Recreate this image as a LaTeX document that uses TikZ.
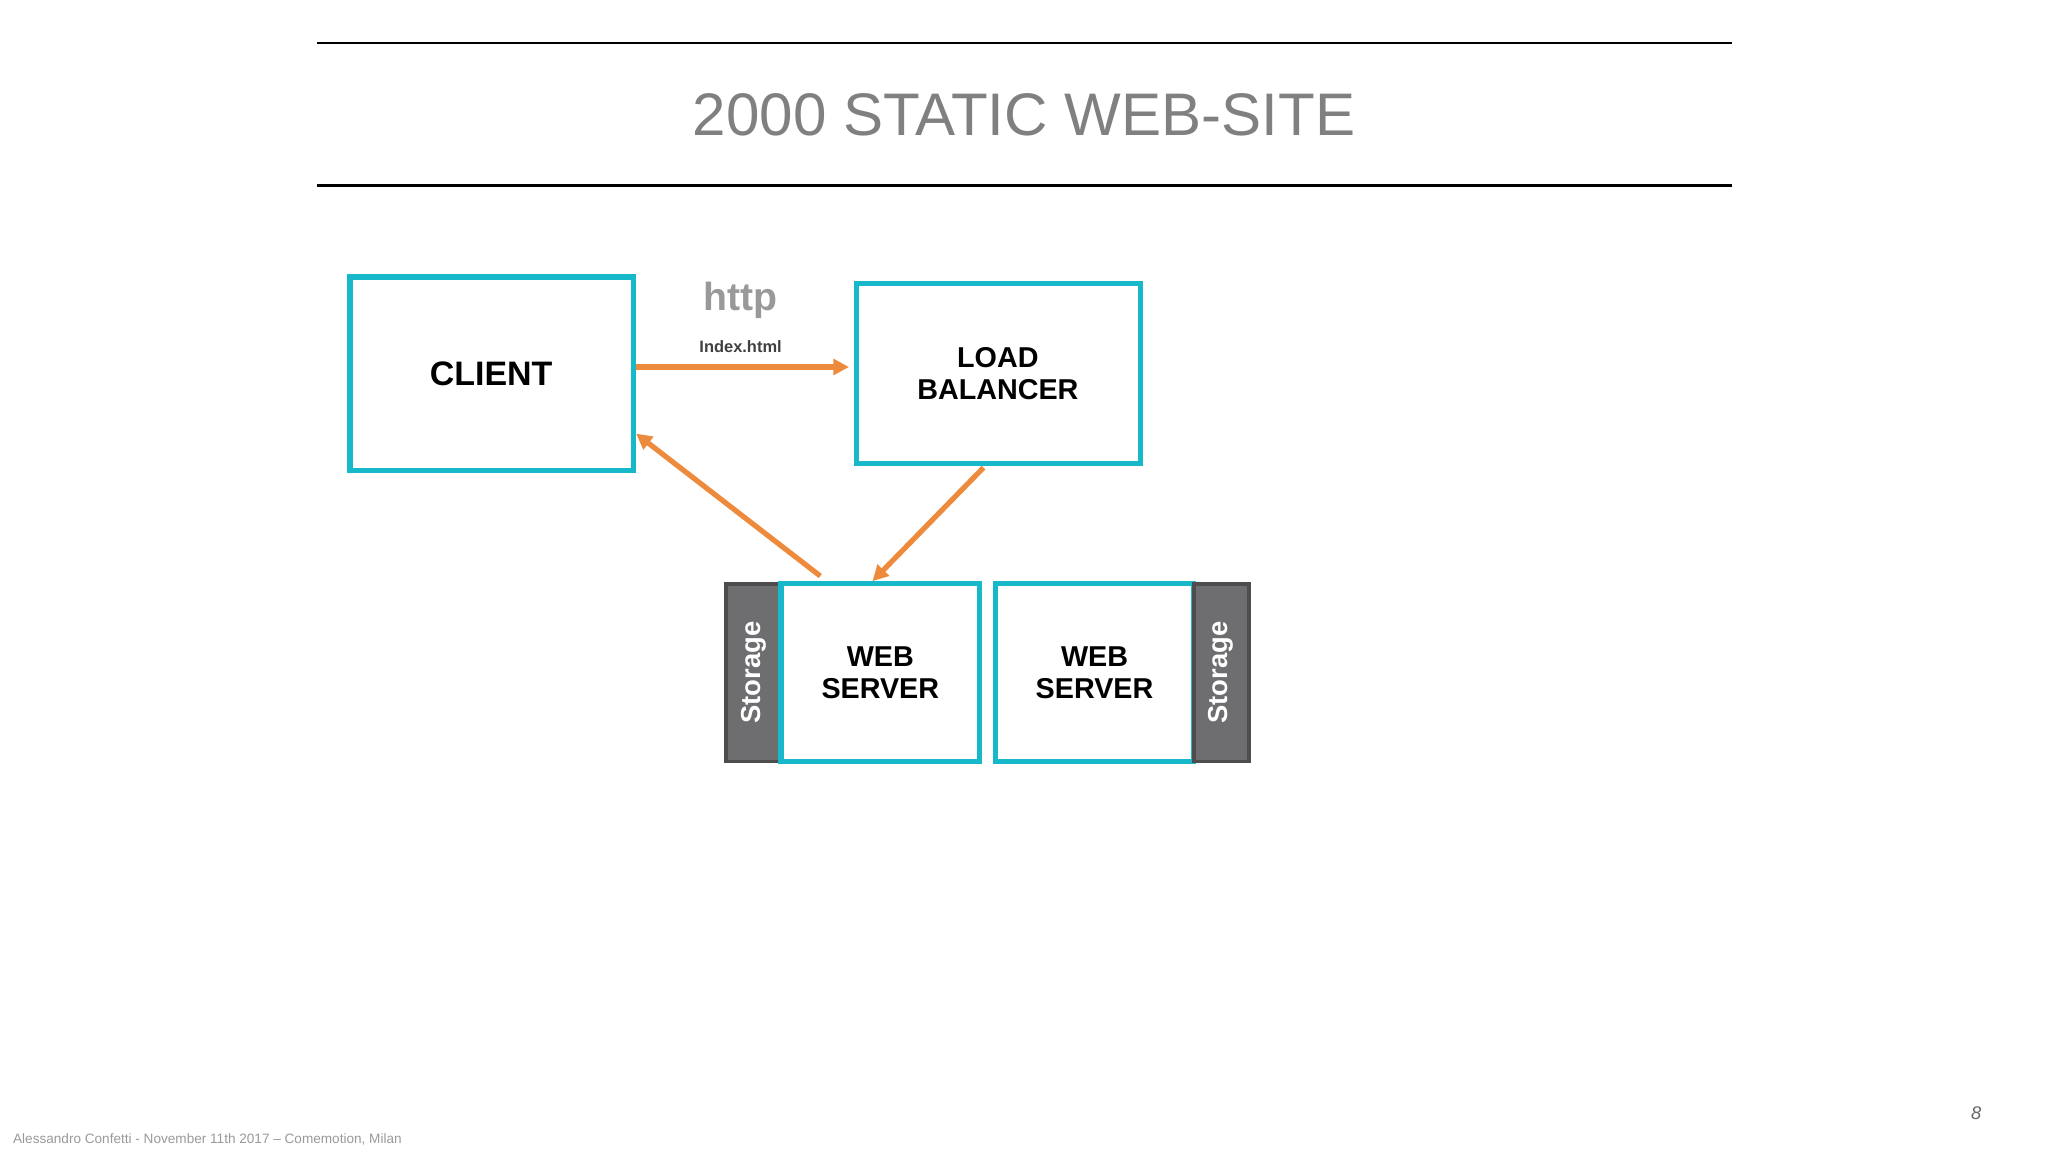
\documentclass[tikz,border=0pt]{standalone}
\usepackage{fontspec}
\setmainfont{Liberation Sans}
\usetikzlibrary{arrows.meta}
\definecolor{cy}{HTML}{17B8C9}
\definecolor{org}{HTML}{EE8A3C}
\definecolor{stg}{HTML}{6E6E70}
\begin{document}
\begin{tikzpicture}[x=0.5pt,y=-0.5pt,
  box/.style={draw=cy,line width=2pt,fill=white,font=\bfseries\fontsize{11}{12}\selectfont,align=center,inner sep=0},
  stor/.style={draw=stg!70!black,fill=stg,line width=1.5pt},
  arr/.style={draw=org,line width=2pt,-{Triangle[length=6pt,width=6pt]}}]
\useasboundingbox (0,0) rectangle (1568,882);
\draw[line width=1pt] (243,33) coordinate (l1a) -- (1326,33) coordinate (l1b);
\draw[line width=1pt] (243,142) coordinate (l2a) -- (1326,142) coordinate (l2b);
\node[text=black!50,font=\fontsize{23}{26}\selectfont] (title) at (784,88) {2000 STATIC WEB-SITE};
\draw[box] (268,212) rectangle (485,360);
\node[font=\bfseries\fontsize{13}{15}\selectfont] (client) at (376,286) {CLIENT};
\draw[box] (656,217) rectangle (873,355);
\node[box,draw=none,fill=none] (lb) at (764,286) {LOAD\\BALANCER};
\draw[stor] (556,447) rectangle (598,583);
\node[rotate=90,text=white,font=\bfseries\fontsize{10.5}{12}\selectfont] (s1) at (577,515) {Storage};
\draw[box] (598,447) rectangle (750,583);
\node[box,draw=none,fill=none] (ws1) at (674,515) {WEB\\SERVER};
\draw[box] (762,447) rectangle (914,583);
\node[box,draw=none,fill=none] (ws2) at (838,515) {WEB\\SERVER};
\draw[stor] (914,447) rectangle (956,583);
\node[rotate=90,text=white,font=\bfseries\fontsize{10.5}{12}\selectfont] (s2) at (935,515) {Storage};
\node[text=black!40,font=\bfseries\fontsize{15}{18}\selectfont] (http) at (567,230) {http};
\node[text=black!75,font=\bfseries\fontsize{6.3}{8}\selectfont] (idx) at (567,265) {Index.html};
\coordinate (a1) at (487,281); \coordinate (a2) at (650,281);
\coordinate (b1) at (753,358); \coordinate (b2) at (668,445);
\coordinate (c1) at (628,441); \coordinate (c2) at (487,332);
\draw[arr] (a1) -- (a2);
\draw[arr] (b1) -- (b2);
\draw[arr] (c1) -- (c2);
\node[anchor=west,text=black!40,font=\fontsize{5.2}{6}\selectfont] (foot) at (3,872) {Alessandro Confetti - November 11th 2017 -- Comemotion, Milan};
\node[text=black!60,font=\itshape\fontsize{7}{8}\selectfont] (pg) at (1513,852) {8};
\end{tikzpicture}
\end{document}
